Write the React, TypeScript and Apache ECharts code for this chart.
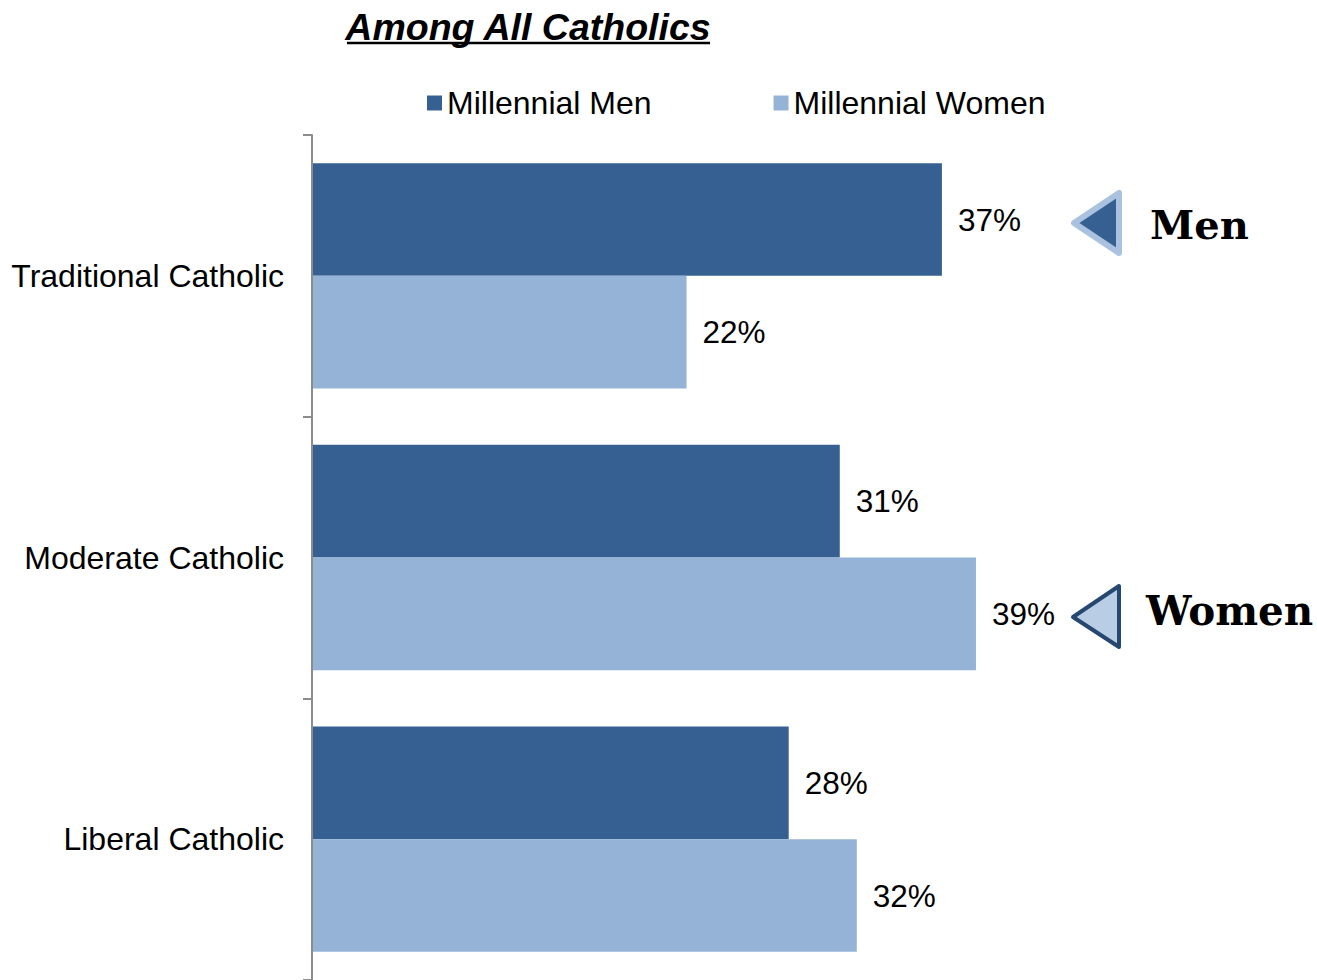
import React, { useEffect, useRef } from "react";
import * as echarts from "echarts";

const categories = ["Traditional Catholic", "Moderate Catholic", "Liberal Catholic"];
const menValues = [37, 31, 28];
const womenValues = [22, 39, 32];
const seriesNames = ["Millennial Men", "Millennial Women"];
const titleText = "Among All Catholics";
const calloutMen = "Men";
const calloutWomen = "Women";

const DARK = "#376092";
const LIGHT = "#95B3D7";
const FONT = "'Liberation Sans', Arial, sans-serif";

export default function App() {
  const ref = useRef<HTMLDivElement>(null);
  useEffect(() => {
    document.body.style.margin = "0";
    const chart = echarts.init(ref.current!, null, { renderer: "svg" });
    const labelCfg = {
      show: true,
      position: "right",
      distance: 16,
      formatter: "{c}%",
      color: "#000",
      fontSize: 31.5,
      fontFamily: FONT,
    };
    chart.setOption({
      animation: false,
      backgroundColor: "#fff",
      textStyle: { fontFamily: FONT },
      legend: {
        data: seriesNames,
        left: 422,
        top: 82,
        icon: "rect",
        itemWidth: 15,
        itemHeight: 15,
        itemGap: 122,
        textStyle: { fontSize: 32, color: "#000", fontFamily: FONT },
      },
      grid: { left: 312, top: 135, width: 681, height: 849 },
      xAxis: {
        type: "value",
        min: 0,
        max: 40,
        show: false,
      },
      yAxis: {
        type: "category",
        data: categories,
        inverse: true,
        z: 5,
        axisLine: { show: true, lineStyle: { color: "#8c8c8c", width: 2 } },
        axisTick: { show: true, length: 9, lineStyle: { color: "#8c8c8c", width: 2 } },
        axisLabel: { fontSize: 32, color: "#000", margin: 28, fontFamily: FONT },
      },
      series: [
        {
          name: seriesNames[0],
          type: "bar",
          data: menValues,
          itemStyle: { color: DARK },
          barGap: "0%",
          barCategoryGap: "20%",
          label: labelCfg,
        },
        {
          name: seriesNames[1],
          type: "bar",
          data: womenValues,
          itemStyle: { color: LIGHT },
          barGap: "0%",
          barCategoryGap: "20%",
          label: labelCfg,
        },
      ],
      graphic: [
        {
          type: "text",
          x: 528,
          y: 8,
          style: {
            text: titleText,
            font: `italic bold 37.5px ${FONT}`,
            fill: "#000",
            align: "center",
          },
        },
        {
          type: "line",
          shape: { x1: 347, y1: 43, x2: 710, y2: 43 },
          style: { stroke: "#000", lineWidth: 2.5 },
        },
        {
          type: "polygon",
          shape: { points: [[1074, 223], [1119, 193], [1119, 253]] },
          style: { fill: DARK, stroke: "#aac2e0", lineWidth: 6, lineJoin: "round" },
        },
        {
          type: "text",
          x: 1150,
          y: 224,
          style: {
            text: calloutMen,
            font: `bold 40px 'DejaVu Serif', serif`,
            fill: "#000",
            verticalAlign: "middle",
          },
        },
        {
          type: "polygon",
          shape: { points: [[1073, 617], [1119, 586], [1119, 647]] },
          style: { fill: "#b9cde5", stroke: "#254770", lineWidth: 4, lineJoin: "round" },
        },
        {
          type: "text",
          x: 1146,
          y: 611,
          style: {
            text: calloutWomen,
            font: `bold 40.5px 'DejaVu Serif', serif`,
            fill: "#000",
            verticalAlign: "middle",
          },
        },
      ],
    });
    return () => chart.dispose();
  }, []);
  return (
    <div
      ref={ref}
      style={{ position: "absolute", left: 0, top: 0, width: 1317, height: 980 }}
    />
  );
}
